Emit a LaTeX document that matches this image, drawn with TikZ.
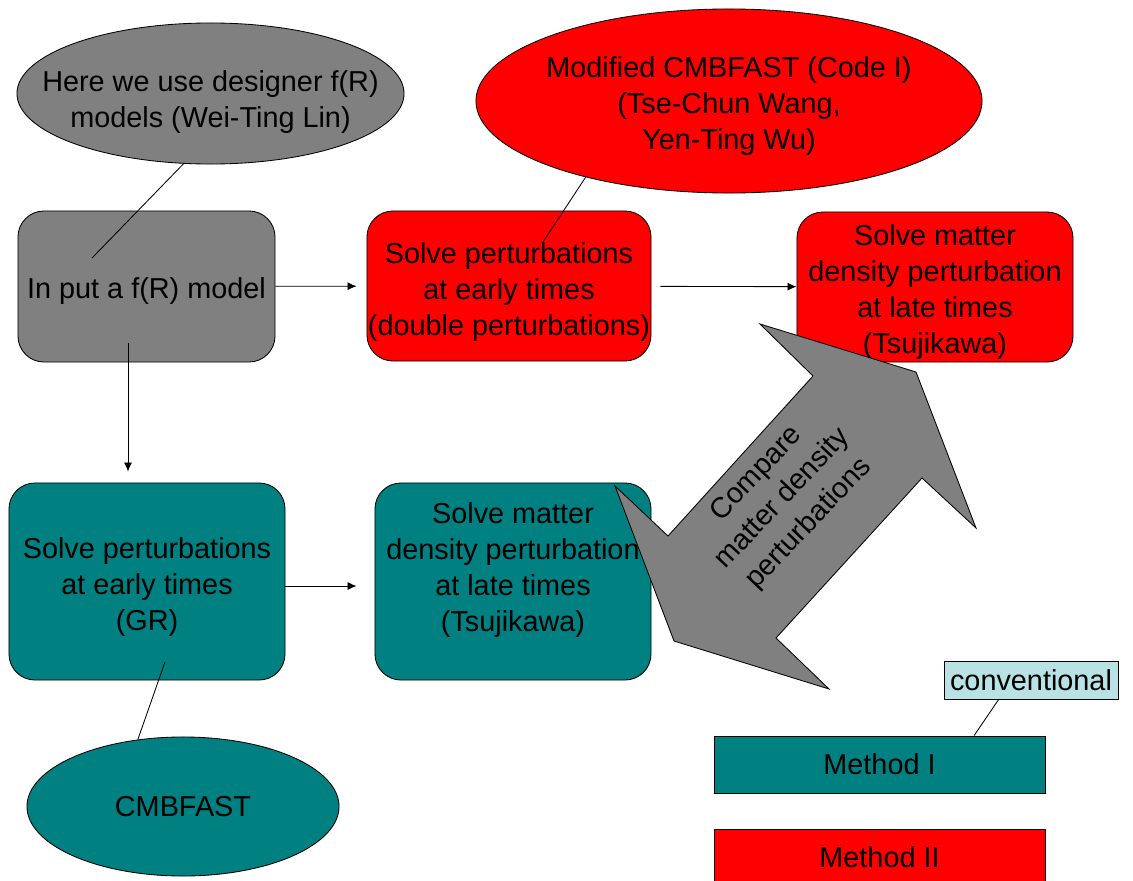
\documentclass[tikz,border=0pt]{standalone}
\usepackage{fontspec}
\setmainfont{Liberation Sans}
\usepackage{xcolor}
\usetikzlibrary{calc,positioning,shapes.geometric,arrows.meta}
\definecolor{FlowGray}{HTML}{808080}
\definecolor{FlowRed}{HTML}{FF0000}
\definecolor{FlowTeal}{HTML}{008080}
\definecolor{FlowPale}{HTML}{B9E2E5}
\tikzset{
  flowbox/.style={draw=black,line width=0.6pt,rounded corners=0.65cm,inner sep=0pt},
  flowoval/.style={ellipse,draw=black,line width=0.6pt,inner sep=0pt},
  keybox/.style={draw=black,line width=0.6pt,inner sep=0pt,align=center},
  flowtext/.style={align=center,inner sep=0pt},
  flowarrow/.style={line width=0.6pt,-{Latex[length=0.225cm,width=0.2cm]}},
  tail/.style={line width=0.6pt}
}
\begin{document}
\begin{tikzpicture}[x=0.025cm,y=-0.025cm,font=\fontsize{20.5}{25.6}\selectfont]
    \useasboundingbox (0,0) rectangle (1133,881);
    \node[flowoval,fill=FlowGray,minimum width=9.675cm,minimum height=3.525cm] (designEll) at (210.5,93.5) {};
    \node[flowoval,fill=FlowRed,minimum width=12.65cm,minimum height=4.6cm] (codeEll) at (729,101) {};
    \node[flowoval,fill=FlowTeal,minimum width=7.8cm,minimum height=3.475cm] (cmbEll) at (183,806.5) {};
    \node[flowbox,fill=FlowGray,minimum width=6.425cm,minimum height=3.775cm] (inputBox) at (146.5,286.5) {};
    \node[flowbox,fill=FlowRed,minimum width=7.1cm,minimum height=3.75cm] (earlyRed) at (509,286) {};
    \node[flowbox,fill=FlowRed,minimum width=6.9cm,minimum height=3.75cm] (lateRed) at (935,287) {};
    \node[flowbox,fill=FlowTeal,minimum width=6.9cm,minimum height=4.925cm] (earlyTeal) at (147,581.5) {};
    \node[flowbox,fill=FlowTeal,minimum width=6.9cm,minimum height=4.925cm] (lateTeal) at (513,581.5) {};
    \node[flowtext] (designText) at (210.5,102.5) {Here we use designer f(R)\\models (Wei-Ting Lin)};
    \node[flowtext] (codeText) at (729,106) {Modified CMBFAST (Code I)\\(Tse-Chun Wang,\\Yen-Ting Wu)};
    \node[flowtext] (cmbText) at (183,807) {CMBFAST};
    \node[flowtext] (inputText) at (146.5,291.5) {In put a f(R) model};
    \node[flowtext] (earlyRedText) at (509,292) {Solve perturbations\\at early times\\(double perturbations)};
    \node[flowtext] (lateRedText) at (935,292) {Solve matter\\density perturbation\\at late times\\(Tsujikawa)};
    \node[flowtext] (earlyTealText) at (147,587.5) {Solve perturbations\\at early times\\(GR)};
    \node[flowtext] (lateTealText) at (513,570) {Solve matter\\density perturbation\\at late times\\(Tsujikawa)};
    \node[keybox,fill=FlowPale,minimum width=4.35cm,minimum height=0.95cm] (convBox) at (1031,680) {conventional};
    \node[keybox,fill=FlowTeal,minimum width=8.275cm,minimum height=1.425cm] (methodOne) at (879.5,764.5) {Method I};
    \node[keybox,fill=FlowRed,minimum width=8.275cm,minimum height=1.425cm] (methodTwo) at (879.5,857.5) {Method II};
    \coordinate (designTip) at (92,258);
    \coordinate (codeTip) at (543,242);
    \coordinate (cmbTip) at (165,662);
    \draw[tail] (designEll.-111) -- (designTip);
    \draw[tail] (codeEll.-152) -- (codeTip);
    \draw[tail] (cmbEll.124) -- (cmbTip);
    \draw[tail] (convBox.-149) -- (methodOne.17);
    \draw[flowarrow,shorten >=0.25cm] (inputBox) -- (earlyRed);
    \draw[flowarrow,shorten <=0.225cm] (earlyRed) -- (lateRed);
    \draw[flowarrow] ($(inputBox.south)+(-18.5,-19)$) -- ($(earlyTeal.north)+(-19,-11)$);
    \draw[flowarrow,shorten >=0.45cm] ($(earlyTeal.east)+(0,4.5)$) -- ($(lateTeal.west)+(0,4.5)$);
    \draw[line width=0.6pt,fill=FlowGray] (760,324) -- (916,372) -- (976,528) -- (922,478) -- (776,638) -- (829,689) -- (674,641) -- (615,486) -- (668,536) -- (813,376) -- cycle;
    \node[rotate=46.5,align=center] (compareText) at (783,499) {Compare\\matter density\\perturbations};
  \end{tikzpicture}
\end{document}
